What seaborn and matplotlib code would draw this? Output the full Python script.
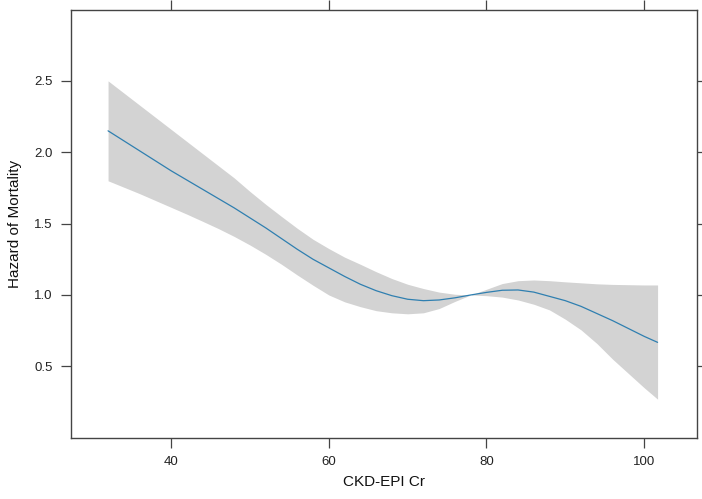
import matplotlib
matplotlib.use("Agg")
import matplotlib.pyplot as plt
import seaborn as sns
import pandas as pd

# Data
egfr = [32, 34, 36, 38, 40, 42, 44, 46, 48, 50, 52, 54, 56, 58, 60, 62, 64, 66, 68, 70,
        72, 74, 76, 78, 80, 82, 84, 86, 88, 90, 92, 94, 96, 98, 100, 101.7]
hazard = [2.15, 2.08, 2.01, 1.94, 1.87, 1.805, 1.74, 1.675, 1.61, 1.54, 1.47, 1.395, 1.32, 1.25, 1.19, 1.13,
          1.075, 1.03, 0.995, 0.97, 0.96, 0.965, 0.98, 1.00, 1.018, 1.033, 1.035, 1.02, 0.99, 0.96,
          0.92, 0.87, 0.82, 0.765, 0.71, 0.668]
upper = [2.50, 2.415, 2.33, 2.245, 2.16, 2.075, 1.99, 1.905, 1.82, 1.725, 1.635, 1.55, 1.467, 1.39, 1.325, 1.265,
         1.215, 1.163, 1.115, 1.075, 1.045, 1.02, 1.005, 1.00, 1.04, 1.08, 1.10, 1.105, 1.10, 1.092,
         1.085, 1.078, 1.074, 1.072, 1.07, 1.07]
lower = [1.80, 1.755, 1.71, 1.662, 1.614, 1.566, 1.516, 1.465, 1.41, 1.35, 1.285, 1.215, 1.14, 1.068, 1.00, 0.952,
         0.918, 0.89, 0.875, 0.868, 0.875, 0.905, 0.955, 1.00, 0.995, 0.985, 0.965, 0.935, 0.895, 0.83,
         0.755, 0.66, 0.55, 0.45, 0.35, 0.27]
xticks = [40, 60, 80, 100]
yticks = [0.5, 1.0, 1.5, 2.0, 2.5]

df = pd.DataFrame({"egfr": egfr, "hazard": hazard, "upper": upper, "lower": lower})

sns.set_theme(style="ticks")
plt.rcParams["font.family"] = ["Liberation Sans", "DejaVu Sans"]

fig = plt.figure(figsize=(7.02, 4.99), dpi=100)
ax = fig.add_axes([71/702, 1 - 437.7/499, (697 - 71)/702, (437.7 - 9.5)/499])

ax.fill_between(df["egfr"], df["lower"], df["upper"], color="#d3d3d3", linewidth=0, zorder=1)
sns.lineplot(data=df, x="egfr", y="hazard", ax=ax, color="#2f7fb0", linewidth=0.9, zorder=2)

ax.set_xlim(27.3, 106.7)
ax.set_ylim(0.0, 3.0)
ax.set_xticks(xticks)
ax.set_yticks(yticks)
ax.set_xticklabels([str(t) for t in xticks])
ax.set_yticklabels([f"{t:.1f}" for t in yticks])

axis_col = "#444444"
for s in ax.spines.values():
    s.set_visible(True)
    s.set_color(axis_col)
    s.set_linewidth(1.0)

ax.tick_params(axis="both", which="both", direction="out", length=7, width=0.9,
               color=axis_col, labelsize=9.5, labelcolor="#222222", pad=6)
ax.tick_params(top=True, right=True, labeltop=False, labelright=False)

ax.set_xlabel("CKD-EPI Cr", fontsize=11, color="#111111", labelpad=5)
ax.set_ylabel("Hazard of Mortality", fontsize=11, color="#111111", labelpad=9)

fig.savefig("out.png", dpi=100)
